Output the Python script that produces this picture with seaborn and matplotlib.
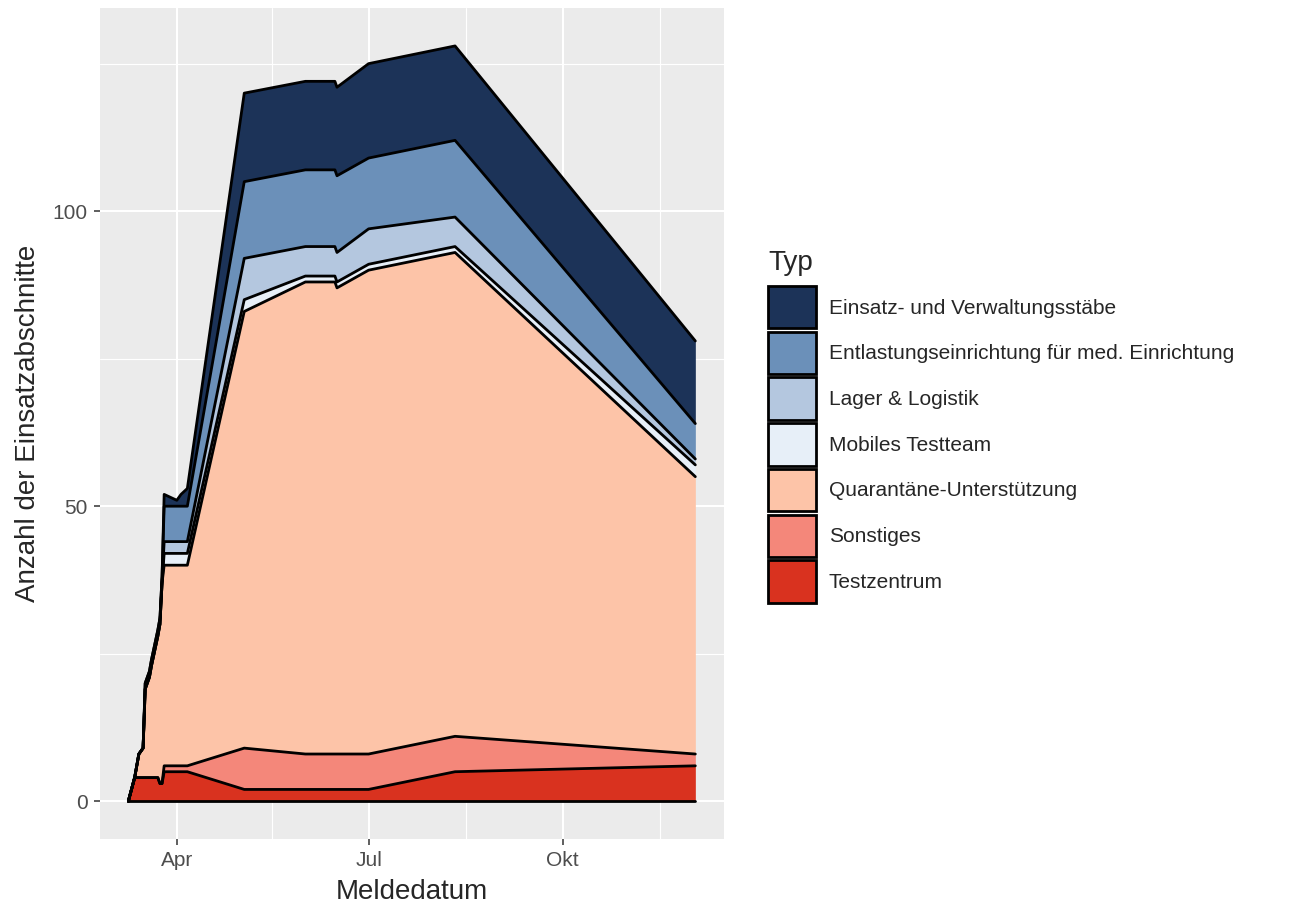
import numpy as np
import pandas as pd
import matplotlib.pyplot as plt
import matplotlib.dates as mdates
from matplotlib.patches import Patch
from matplotlib.ticker import FixedLocator
import seaborn as sns


# data (counts per report date)

dates = ['2020-03-09', '2020-03-12', '2020-03-13', '2020-03-14', '2020-03-16',
         '2020-03-17', '2020-03-18', '2020-03-19', '2020-03-20', '2020-03-23',
         '2020-03-24', '2020-03-25', '2020-03-26', '2020-04-01', '2020-04-03',
         '2020-04-06', '2020-05-03', '2020-06-01', '2020-06-15', '2020-06-16',
         '2020-07-01', '2020-08-11', '2020-12-03']

testzentrum = [0, 4, 4, 4, 4, 4, 4, 4, 4, 4, 3, 3, 5, 5, 5, 5, 2, 2, 2, 2, 2, 5, 6]
sonstiges   = [0, 0, 0, 0, 0, 0, 0, 0, 0, 0, 0, 0, 1, 1, 1, 1, 7, 6, 6, 6, 6, 6, 2]
quarantaene = [0, 0, 2, 4, 5, 15, 16, 17, 19, 24, 27, 34, 34, 34, 34, 34, 74, 80, 80, 79, 82, 82, 47]
mobiles     = [0, 0, 0, 0, 0, 0, 0, 0, 0, 0, 0, 0, 2, 2, 2, 2, 2, 1, 1, 1, 1, 1, 2]
lager       = [0, 0, 0, 0, 0, 0, 0, 0, 0, 0, 0, 0, 2, 2, 2, 2, 7, 5, 5, 5, 6, 5, 1]
entlastung  = [0, 0, 0, 0, 0, 1, 1, 1, 1, 1, 1, 1, 6, 6, 6, 6, 13, 13, 13, 13, 12, 13, 6]
einsatz     = [0, 0, 0, 0, 0, 0, 0, 0, 0, 0, 0, 0, 2, 1, 2, 3, 15, 15, 15, 15, 16, 16, 14]

types = ['Einsatz- und Verwaltungsstäbe',
         'Entlastungseinrichtung für med. Einrichtung',
         'Lager & Logistik',
         'Mobiles Testteam',
         'Quarantäne-Unterstützung',
         'Sonstiges',
         'Testzentrum']

colors = ['#1c3358', '#6b90b9', '#b4c7df', '#e7eff8', '#fdc4a8', '#f4877a', '#d9321f']

month_ticks = ['2020-04-01', '2020-07-01', '2020-10-01']
month_labels = ['Apr', 'Jul', 'Okt']
month_minor = ['2020-05-16', '2020-08-16', '2020-11-16']


df = pd.DataFrame({
    'Meldedatum': pd.to_datetime(dates),
    'Einsatz- und Verwaltungsstäbe': einsatz,
    'Entlastungseinrichtung für med. Einrichtung': entlastung,
    'Lager & Logistik': lager,
    'Mobiles Testteam': mobiles,
    'Quarantäne-Unterstützung': quarantaene,
    'Sonstiges': sonstiges,
    'Testzentrum': testzentrum,
}).set_index('Meldedatum')

# stack from the bottom (Testzentrum) upwards, like ggplot does
stack_order = types[::-1]
cum = df[stack_order].cumsum(axis=1)

sns.set_style('darkgrid', {
    'axes.facecolor': '#EBEBEB',
    'grid.color': 'white',
})
plt.rcParams['font.family'] = ['Liberation Sans', 'DejaVu Sans']

fig = plt.figure(figsize=(12.9, 9.08), dpi=100)
ax = fig.add_axes([0.0775, 0.076, 0.4835, 0.915])

x = cum.index
prev = np.zeros(len(cum))
for name in stack_order:
    top = cum[name].values
    ax.fill_between(x, prev, top, color=colors[types.index(name)], linewidth=0, zorder=2)
    prev = top

# outline each band (upper and lower edges)
ax.plot(x, np.zeros(len(cum)), color='black', lw=2.0, zorder=3)
for name in stack_order:
    sns.lineplot(x=x, y=cum[name].values, color='black', lw=2.0, ax=ax,
                 zorder=3, estimator=None, sort=False)

# axis limits with ggplot-like 5% expansion
xmin = mdates.date2num(x.min())
xmax = mdates.date2num(x.max())
xpad = (xmax - xmin) * 0.05
ax.set_xlim(xmin - xpad, xmax + xpad)
ymax = cum.values.max()
ax.set_ylim(-0.05 * ymax, ymax * 1.05)

ax.xaxis.set_major_locator(FixedLocator(mdates.date2num(pd.to_datetime(month_ticks))))
ax.xaxis.set_minor_locator(FixedLocator(mdates.date2num(pd.to_datetime(month_minor))))
ax.set_xticklabels(month_labels)
ax.yaxis.set_major_locator(FixedLocator([0, 50, 100]))
ax.yaxis.set_minor_locator(FixedLocator([25, 75, 125]))

ax.grid(which='major', color='white', lw=1.5)
ax.grid(which='minor', color='white', lw=0.8)
ax.set_axisbelow(True)
for s in ax.spines.values():
    s.set_visible(False)

ax.tick_params(axis='both', which='major', length=4, width=1.1, color='#333333',
               labelsize=15, labelcolor='#4D4D4D', pad=5, bottom=True, left=True)
ax.tick_params(axis='both', which='minor', length=0)

ax.set_xlabel('Meldedatum', fontsize=20, labelpad=6)
ax.set_ylabel('Anzahl der Einsatzabschnitte', fontsize=20, labelpad=8)

handles = [Patch(facecolor=c, edgecolor='black', linewidth=2.0) for c in colors]
leg = fig.legend(handles, types, title='Typ', loc='upper left',
                 bbox_to_anchor=(758 / 1290, 1 - 240 / 908),
                 frameon=False, fontsize=15, title_fontsize=20,
                 handlelength=2.3, handleheight=2.75, labelspacing=0.16,
                 handletextpad=0.6, borderpad=0)
leg._legend_box.align = 'left'
leg._legend_box.sep = 7

plt.savefig('out.png', dpi=100)
